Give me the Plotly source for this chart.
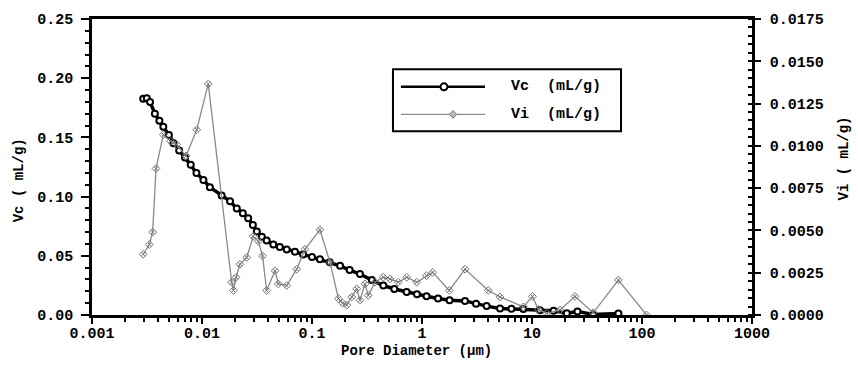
import plotly.graph_objects as go

# ---- data ----
vc_diam = [0.00292, 0.00315, 0.00337, 0.00373, 0.0041, 0.00445, 0.0050, 0.0055, 0.0062, 0.0070,
           0.0079, 0.0089, 0.0103, 0.0118, 0.0151, 0.0180, 0.0207, 0.0235, 0.0263, 0.0290,
           0.0315, 0.0350, 0.0387, 0.0445, 0.0510, 0.0589, 0.070, 0.083, 0.100, 0.118,
           0.145, 0.180, 0.220, 0.273, 0.350, 0.445, 0.560, 0.725, 0.900, 1.10,
           1.40, 1.78, 2.46, 3.10, 3.87, 5.12, 6.50, 8.34, 11.8, 15.7,
           20.7, 25.9, 36.0, 61.0]
vc_vals = [0.1827, 0.1830, 0.1800, 0.1700, 0.1640, 0.1590, 0.1520, 0.1450, 0.1390, 0.1330,
           0.1270, 0.1200, 0.1140, 0.1080, 0.1010, 0.0960, 0.0900, 0.0860, 0.0817, 0.0760,
           0.0706, 0.0660, 0.0630, 0.0595, 0.0575, 0.0554, 0.0535, 0.0512, 0.0490, 0.0470,
           0.0445, 0.0415, 0.0380, 0.0346, 0.0295, 0.0249, 0.0220, 0.0194, 0.0175, 0.0158,
           0.0140, 0.0125, 0.0119, 0.0095, 0.0075, 0.0055, 0.0052, 0.0050, 0.0040, 0.0035,
           0.0014, 0.0030, 0.0005, 0.0012]

vi_diam = [0.00292, 0.00332, 0.00356, 0.00382, 0.00445, 0.00519, 0.00589, 0.00716, 0.00895, 0.0114,
           0.0186, 0.0193, 0.0204, 0.0221, 0.0255, 0.0292, 0.0325, 0.0355, 0.0387, 0.0461,
           0.0494, 0.0589, 0.0726, 0.0863, 0.118, 0.146, 0.174, 0.190, 0.207, 0.230,
           0.255, 0.273, 0.303, 0.325, 0.374, 0.445, 0.512, 0.609, 0.725, 0.895,
           1.10, 1.25, 1.77, 2.46, 4.01, 5.12, 8.34, 10.1, 11.4, 13.6,
           18.0, 24.6, 36.0, 61.0, 110.0]
vi_vals = [0.00359, 0.00417, 0.00490, 0.00866, 0.01066, 0.01027, 0.01008, 0.00940, 0.01095, 0.01366,
           0.00194, 0.00145, 0.00223, 0.00300, 0.00340, 0.00465, 0.00436, 0.00349, 0.00145, 0.00262,
           0.00184, 0.00174, 0.00271, 0.00388, 0.00504, 0.00310, 0.00097, 0.00070, 0.00058, 0.00107,
           0.00155, 0.00087, 0.00184, 0.00116, 0.00194, 0.00223, 0.00213, 0.00194, 0.00223, 0.00194,
           0.00233, 0.00252, 0.00145, 0.00271, 0.00145, 0.00107, 0.00048, 0.00110, 0.00033, 0.00010,
           0.00030, 0.00110, 0.00013, 0.00207, 0.00000]

x_tick_vals = [0.001, 0.01, 0.1, 1, 10, 100, 1000]
x_tick_text = ["0.001", "0.01", "0.1", "1", "10", "100", "1000"]

FONT = "Liberation Mono"
tickfont = dict(family=FONT, size=15, color="black", weight="bold")

fig = go.Figure()
fig.add_trace(go.Scatter(
    x=vi_diam, y=vi_vals, yaxis="y2", mode="lines+markers", name="Vi (mL/g)",
    line=dict(color="#8a8a8a", width=1.3),
    marker=dict(symbol="diamond-x-open", size=6, color="#777777", line=dict(width=1)),
    showlegend=False))
fig.add_trace(go.Scatter(
    x=vc_diam, y=vc_vals, mode="lines+markers", name="Vc (mL/g)",
    line=dict(color="black", width=3.5),
    marker=dict(symbol="circle", size=6, color="white", line=dict(color="black", width=2)),
    showlegend=False))

minor_x = [k * 10.0 ** d for d in range(-3, 3) for k in range(2, 10)]

fig.update_layout(
    width=858, height=371,
    margin=dict(l=92, r=106, t=14, b=56),
    paper_bgcolor="white", plot_bgcolor="white",
    xaxis=dict(type="log", range=[-3, 3], tickmode="array", tickvals=x_tick_vals, ticktext=x_tick_text,
               ticks="outside", ticklen=6, tickwidth=2, tickcolor="black",
               minor=dict(tickmode="array", tickvals=minor_x, ticks="outside", ticklen=4,
                          tickwidth=2, tickcolor="black", showgrid=False),
               showline=True, linewidth=2.5, linecolor="black", mirror=True,
               showgrid=False, zeroline=False, tickfont=tickfont, ticklabelstandoff=-4),
    yaxis=dict(range=[0, 0.25], dtick=0.05, tickformat=".2f",
               ticks="outside", ticklen=8, tickwidth=2, tickcolor="black",
               minor=dict(dtick=0.01, ticks="outside", ticklen=4, tickwidth=2,
                          tickcolor="black", showgrid=False),
               showline=True, linewidth=2.5, linecolor="black", mirror=True,
               showgrid=False, zeroline=False, tickfont=tickfont, ticklabelstandoff=5),
    yaxis2=dict(range=[0, 0.0175], dtick=0.0025, tickformat=".4f", overlaying="y", side="right",
                ticks="outside", ticklen=6, tickwidth=2, tickcolor="black",
                minor=dict(dtick=0.0005, ticks="inside", ticklen=4, tickwidth=2,
                           tickcolor="black", showgrid=False),
                showline=True, linewidth=2.5, linecolor="black",
                showgrid=False, zeroline=False, tickfont=tickfont, ticklabelstandoff=6),
)

# axis titles
title_font = dict(family=FONT, size=14, color="black", weight="bold")
fig.add_annotation(text="Vc ( mL/g)", xref="paper", yref="paper", x=-0.1106, y=0.455,
                   xanchor="center", yanchor="middle",
                   textangle=-90, showarrow=False, font=title_font)
fig.add_annotation(text="Vi ( mL/g)", xref="paper", yref="paper", x=1.14, y=0.53,
                   xanchor="center", yanchor="middle",
                   textangle=-90, showarrow=False, font=title_font)
fig.add_annotation(text="Pore Diameter (µm)", xref="paper", yref="paper", x=0.492, y=-0.12,
                   xanchor="center", yanchor="middle", showarrow=False, font=title_font)

# legend (drawn manually to match the reference's long line samples)
fig.add_shape(type="rect", xref="paper", yref="paper", x0=0.456, x1=0.8015, y0=0.621, y1=0.8306,
              line=dict(color="black", width=2), fillcolor="white", layer="above")
fig.add_shape(type="line", xref="paper", yref="paper", x0=0.468, x1=0.5955, y0=0.7708, y1=0.7708,
              line=dict(color="black", width=2.5))
fig.add_shape(type="circle", xref="paper", yref="paper", xsizemode="pixel", ysizemode="pixel",
              xanchor=0.5333, yanchor=0.7708, x0=-3.5, x1=3.5, y0=-3.5, y1=3.5,
              line=dict(color="black", width=2), fillcolor="white")
fig.add_shape(type="line", xref="paper", yref="paper", x0=0.468, x1=0.5955, y0=0.6777, y1=0.6777,
              line=dict(color="#8a8a8a", width=1.3))
fig.add_shape(type="path", xref="paper", yref="paper", xsizemode="pixel", ysizemode="pixel",
              xanchor=0.547, yanchor=0.6777, path="M -3.5 0 L 0 4 L 3.5 0 L 0 -4 Z",
              line=dict(color="#777777", width=1), fillcolor="#bbbbbb")
leg_font = dict(family=FONT, size=15, color="black", weight="bold")
fig.add_annotation(text="Vc\u00a0\u00a0(mL/g)", xref="paper", yref="paper", x=0.6318, y=0.7708,
                   xanchor="left", yanchor="middle", showarrow=False, font=leg_font)
fig.add_annotation(text="Vi\u00a0\u00a0(mL/g)", xref="paper", yref="paper", x=0.6318, y=0.6777,
                   xanchor="left", yanchor="middle", showarrow=False, font=leg_font)

fig.write_html("out.html")
